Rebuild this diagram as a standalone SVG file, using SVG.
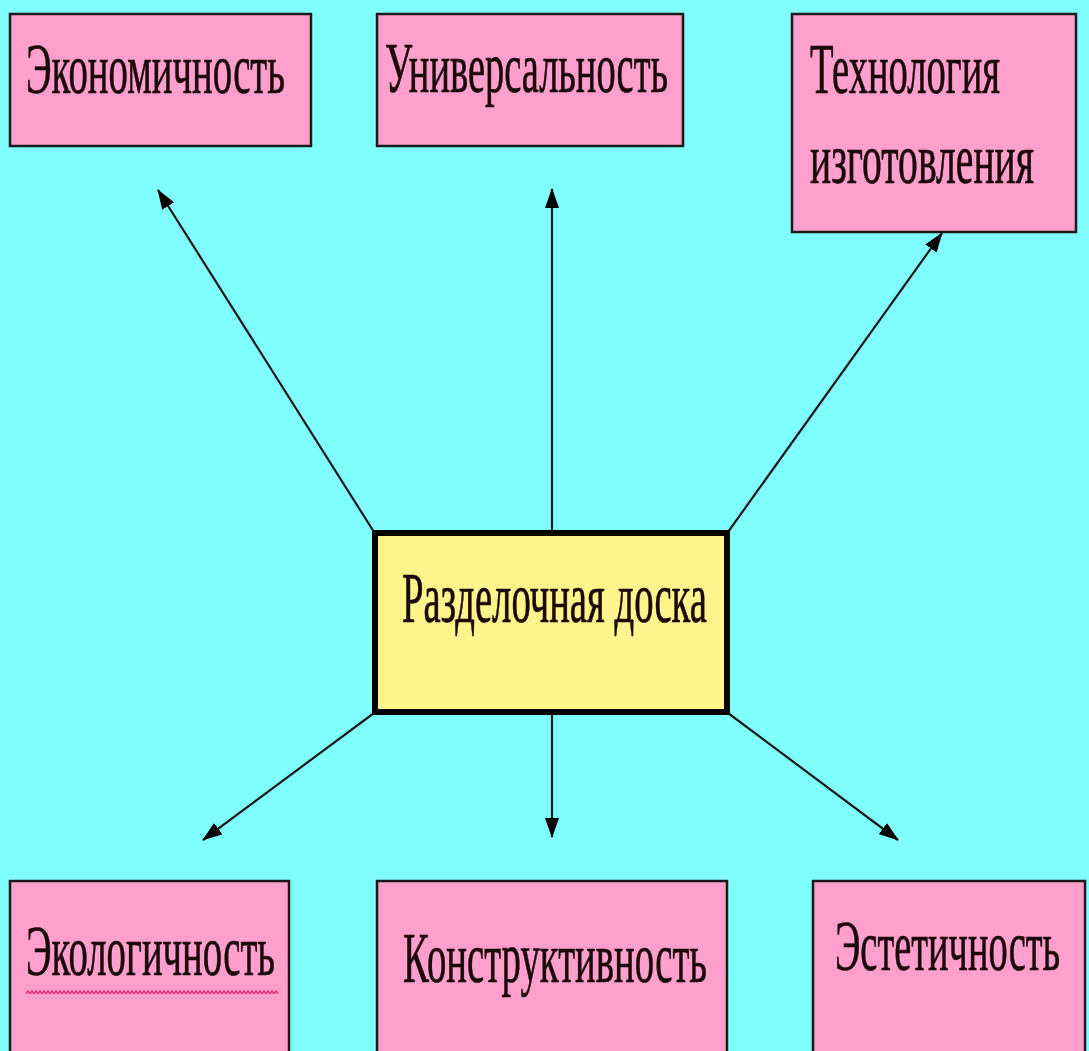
<svg xmlns="http://www.w3.org/2000/svg" width="1089" height="1051" viewBox="0 0 1089 1051">
<style>
.box{fill:#FF9FCC;stroke:#1a1a1a;stroke-width:2.5}
.center{fill:#FFF38C;stroke:#000;stroke-width:6}
.lbl{font-family:"Liberation Serif","Times New Roman",serif;font-size:72px;fill:#1a0a0a;stroke:#1a0a0a;stroke-width:0.7}
.conn{stroke:#1a1a1a;stroke-width:2.2;fill:none;marker-end:url(#ah)}
</style>
<defs>
<marker id="ah" markerUnits="userSpaceOnUse" markerWidth="20" markerHeight="14" refX="19" refY="7" orient="auto">
<path d="M0,0 L20,7 L0,14 Z" fill="#000"/>
</marker>
<pattern id="wave" patternUnits="userSpaceOnUse" x="26" y="990" width="4" height="5">
<path d="M0,4 L2,1 L4,4" fill="none" stroke="#E0206A" stroke-width="1.3"/>
</pattern>
</defs>
<rect width="1089" height="1051" fill="#80FFFF"/>
<g id="connectors">
<line class="conn" x1="374" y1="532" x2="158" y2="190"/>
<line class="conn" x1="552" y1="530" x2="552" y2="189"/>
<line class="conn" x1="728" y1="532" x2="942" y2="233"/>
<line class="conn" x1="374" y1="713" x2="203" y2="840"/>
<line class="conn" x1="552" y1="715" x2="552" y2="837"/>
<line class="conn" x1="728" y1="713" x2="898" y2="840"/>
</g>
<g id="n-economy">
<rect class="box" x="10" y="14" width="301" height="132"/>
<text class="lbl" transform="scale(0.6,1)" x="43.33" y="93" textLength="431.67" lengthAdjust="spacingAndGlyphs">Экономичность</text>
</g>
<g id="n-universal">
<rect class="box" x="377" y="14" width="306" height="132"/>
<text class="lbl" transform="scale(0.6,1)" x="641.67" y="92" textLength="471.67" lengthAdjust="spacingAndGlyphs">Универсальность</text>
</g>
<g id="n-tech">
<rect class="box" x="792" y="14" width="284" height="218"/>
<text class="lbl" transform="scale(0.6,1)" x="1350" y="93" textLength="316.67" lengthAdjust="spacingAndGlyphs">Технология</text>
<text class="lbl" transform="scale(0.6,1)" x="1350" y="183" textLength="373.33" lengthAdjust="spacingAndGlyphs">изготовления</text>
</g>
<g id="n-center">
<rect class="center" x="375" y="533" width="352" height="179"/>
<text class="lbl" transform="scale(0.6,1)" x="670" y="622" textLength="508.33" lengthAdjust="spacingAndGlyphs">Разделочная доска</text>
</g>
<g id="n-ecology">
<rect class="box" x="10" y="881" width="279" height="185"/>
<text class="lbl" transform="scale(0.6,1)" x="43.33" y="975" textLength="415" lengthAdjust="spacingAndGlyphs">Экологичность</text>
<rect x="26" y="990" width="252" height="5" fill="url(#wave)"/>
</g>
<g id="n-construct">
<rect class="box" x="377" y="881" width="350" height="185"/>
<text class="lbl" transform="scale(0.6,1)" x="671.67" y="982" textLength="506.67" lengthAdjust="spacingAndGlyphs">Конструктивность</text>
</g>
<g id="n-aesthetic">
<rect class="box" x="813" y="881" width="272" height="185"/>
<text class="lbl" transform="scale(0.6,1)" x="1391.67" y="970" textLength="375" lengthAdjust="spacingAndGlyphs">Эстетичность</text>
</g>
</svg>
